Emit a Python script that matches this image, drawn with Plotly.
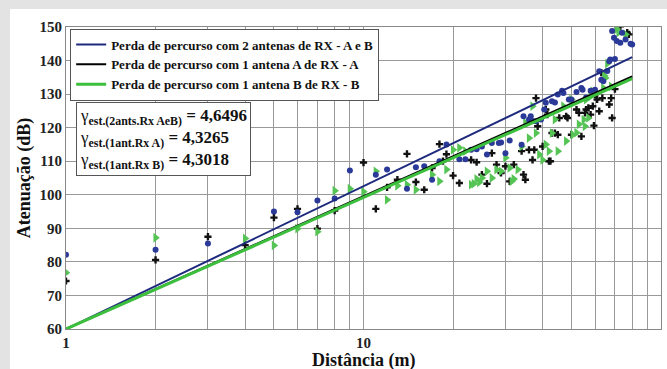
import plotly.graph_objects as go

# ---- data ----
blue_x = [1, 2, 3, 5, 6, 7, 8, 9, 11, 12, 14, 15, 16, 17, 18, 19, 21, 22, 23, 24, 25, 26, 27, 28.5, 29, 30, 31,
          34, 34.5, 36, 36.5, 37, 38, 39.5, 40.5, 41, 43, 44, 45, 46.5, 47, 49, 50, 52, 54, 54.5, 56, 58, 60, 62,
          63, 64, 66, 67, 67.5, 70, 68.5, 69.5, 71, 73, 74, 76, 79, 80]
blue_y = [82.1, 83.6, 85.5, 95.0, 94.8, 98.3, 98.9, 107.2, 106.0, 107.5, 101.8, 108.2, 108.5, 104.5, 110.0, 115.0,
          110.6, 110.6, 113.4, 113.6, 114.4, 112.0, 115.4, 115.4, 115.6, 112.4, 116.2,
          114.9, 123.4, 122.4, 123.4, 122.0, 121.9, 122.4, 125.4, 127.4, 127.9, 127.5, 129.9, 131.0, 130.3, 128.4,
          128.4, 130.6, 131.8, 131.3, 129.0, 131.0, 131.3, 136.8,
          134.3, 133.8, 136.9, 139.8, 140.3, 140.5, 148.8, 146.8, 145.8, 145.3, 148.3, 146.3, 145.0, 144.8]

black_x = [1, 2, 3, 4, 5, 6, 7, 8, 10, 11, 12, 13, 14, 15, 16, 17, 18, 18.5, 19, 20, 21, 23, 24, 25, 26, 27, 28,
           29, 30, 31, 32, 34, 34.5, 35, 36, 37, 37.5, 38, 38.5, 40, 41, 41.5, 42, 42.5, 43, 44, 45, 45.5, 48,
           48.5, 50, 52, 53, 54, 55.5, 56, 57, 58, 59, 59.5, 60, 61, 62, 63, 63.5, 67, 68, 68.5, 70, 73, 77, 78]
black_y = [74.3, 80.6, 87.5, 85.0, 93.2, 95.8, 89.9, 95.3, 109.6, 95.8, 102.2, 104.5, 112.2, 103.8, 101.5, 108.0,
           115.1, 110.0, 112.1, 105.7, 103.5, 110.4, 109.7, 106.0, 103.3, 112.4, 109.0,
           106.5, 108.5, 104.0, 109.0, 113.0, 106.0, 104.5, 113.4, 110.4, 113.4, 128.8, 120.4, 114.4, 125.4, 123.9,
           110.0, 110.0, 118.4, 118.4, 117.9, 122.9, 123.4,
           122.9, 117.9, 125.4, 124.4, 117.4, 124.4, 125.4, 125.9, 123.9, 126.4, 120.6, 129.9, 128.4, 124.9, 136.4,
           128.8, 126.9, 128.8, 122.9, 131.5, 150.2, 148.3, 147.8]

green_x = [1, 2, 4, 5, 6, 7, 8, 9, 10, 11, 12, 13, 14, 15, 17, 18, 19, 20, 21, 22, 23, 23.5, 24, 24.5, 25, 26,
           27, 28, 29, 30, 31, 31.5, 32, 33, 34, 35, 36, 37, 38, 39, 40, 41, 42, 43, 44, 45, 47, 48, 50, 50.5,
           52, 53, 55, 55.5, 56, 57, 58, 59, 64, 64.5, 65, 66, 68, 71, 72, 76]
green_y = [76.8, 87.2, 87.0, 84.9, 89.9, 89.0, 101.2, 101.8, 100.9, 107.0, 98.5, 102.7, 103.0, 101.5, 106.0, 104.0,
           107.5, 113.4, 114.0, 113.0, 103.0, 103.3, 104.7, 103.7, 105.0, 107.0,
           105.0, 107.5, 107.0, 111.0, 108.0, 104.0, 104.7, 107.5, 114.4, 121.5, 116.9, 126.4, 118.4, 112.0, 110.4,
           115.0, 113.0, 118.4, 122.4, 113.0, 126.4, 116.0, 128.4, 117.9,
           118.5, 121.0, 122.4, 120.4, 128.4, 122.9, 129.3, 130.8, 131.8, 135.5, 134.8, 139.1, 132.3, 149.4, 148.3,
           147.8]

fit_x = [1, 80]
blue_fit = [60, 141.0]
black_fit = [60, 135.3]
green_fit = [60, 134.6]

legend_names = ["Perda de percurso com 2 antenas de RX - A e B",
                "Perda de percurso com 1 antena A de RX - A",
                "Perda de percurso com 1 antena B de RX - B"]
gamma_text = ("γ<sub><b>est.(2ants.Rx AeB)</b></sub><b> = 4,6496</b><br>"
              "γ<sub><b>est.(1ant.Rx A)</b></sub><b> = 4,3265</b><br>"
              "γ<sub><b>est.(1ant.Rx B)</b></sub><b> = 4,3018</b>")

x_ticks = [1, 2, 3, 4, 5, 6, 7, 8, 9, 10, 20, 30, 40, 50, 60, 70, 80, 90, 100]
x_ticktext = ["<b>1</b>"] + [" "] * 8 + ["<b>10</b>"] + [" "] * 8 + ["<b>100</b>"]
y_ticks = [60, 70, 80, 90, 100, 110, 120, 130, 140, 150]

BLUE = "#2b3a98"
BLUE_LINE = "#1e2a7e"
GREEN = "#55c455"
GREEN_LINE = "#3cbf3c"
SERIF = "Liberation Serif"

fig = go.Figure()

fig.add_trace(go.Scatter(x=black_x, y=black_y, mode="markers", showlegend=False,
                         marker=dict(symbol="cross", size=6, color="#111111")))
fig.add_trace(go.Scatter(x=green_x, y=green_y, mode="markers", showlegend=False,
                         marker=dict(symbol="triangle-right", size=8.5, color=GREEN)))
fig.add_trace(go.Scatter(x=blue_x, y=blue_y, mode="markers", showlegend=False,
                         marker=dict(symbol="circle", size=6, color=BLUE)))

fig.add_trace(go.Scatter(x=fit_x, y=blue_fit, mode="lines", name="<b>" + legend_names[0] + "</b>",
                         line=dict(color=BLUE_LINE, width=2)))
fig.add_trace(go.Scatter(x=fit_x, y=black_fit, mode="lines", name="<b>" + legend_names[1] + "</b>",
                         line=dict(color="#000000", width=2)))
fig.add_trace(go.Scatter(x=fit_x, y=green_fit, mode="lines", name="<b>" + legend_names[2] + "</b>",
                         line=dict(color=GREEN_LINE, width=3)))

# white panel over the textured grey page
fig.add_shape(type="rect", xref="paper", yref="paper", x0=-0.094, x1=1.02, y0=-0.14, y1=1.06,
              fillcolor="white", line=dict(width=0), layer="below")

fig.add_annotation(x=0.017, y=0.752, xref="paper", yref="paper", xanchor="left", yanchor="top",
                   text=gamma_text, showarrow=False, align="left",
                   font=dict(family=SERIF, size=17, color="#111111"),
                   bordercolor="#555555", borderwidth=1, borderpad=3, bgcolor="white")

# x-axis title
fig.add_annotation(x=0.5, y=-0.103, xref="paper", yref="paper", xanchor="center", yanchor="middle",
                   text="<b>Distância (m)</b>", showarrow=False,
                   font=dict(family=SERIF, size=18, color="#111111"))

axis_common = dict(showline=True, linecolor="#888888", linewidth=1, mirror=True,
                   showgrid=True, gridcolor="#999999", gridwidth=1, ticks="",
                   tickfont=dict(family=SERIF, size=15, color="#222222"), zeroline=False)

fig.update_layout(
    width=667, height=369,
    margin=dict(l=66, r=6, t=27, b=40),
    paper_bgcolor="#e3e3e3",
    plot_bgcolor="white",
    font=dict(family=SERIF, color="#111111"),
    xaxis=dict(type="log", range=[0, 2], tickvals=x_ticks, ticktext=x_ticktext, **axis_common),
    yaxis=dict(range=[60, 150], tickvals=y_ticks, ticktext=[f"<b>{v}</b>" for v in y_ticks],
               title=dict(text="<b>Atenuação (dB)</b>", font=dict(family=SERIF, size=18), standoff=4),
               **axis_common),
    legend=dict(x=0.007, y=0.995, xanchor="left", yanchor="top", bgcolor="white",
                bordercolor="#555555", borderwidth=1, tracegroupgap=0,
                font=dict(family=SERIF, size=13, color="#111111"),
                itemwidth=30),
)

fig.write_html("out.html", config={"displayModeBar": False},
               post_script="document.body.style.margin='0';document.body.style.overflow='hidden';")
